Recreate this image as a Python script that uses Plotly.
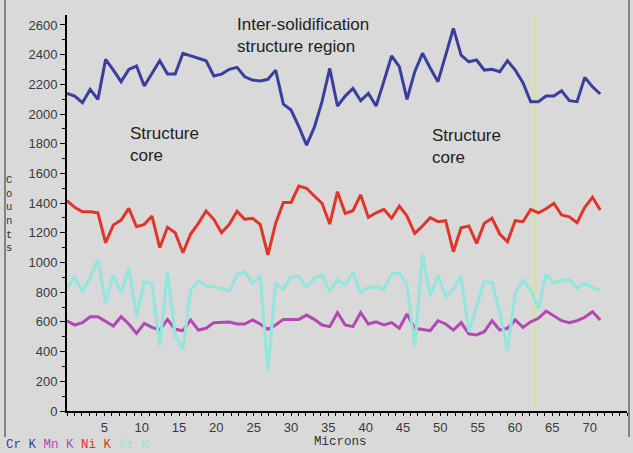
import plotly.graph_objects as go

# EDS line scan: X-ray counts along the scan path (microns)
step_um = 1.035
n_points = 70
microns = [round(i * step_um, 3) for i in range(n_points)]

cr_k = [2139, 2121, 2076, 2166, 2099, 2368, 2296, 2218, 2301, 2323,
        2189, 2274, 2359, 2269, 2269, 2409, 2391, 2375, 2359, 2256,
        2269, 2301, 2314, 2251, 2229, 2222, 2234, 2296, 2067, 2027,
        1915, 1791, 1910, 2083, 2307, 2054, 2121, 2173, 2090, 2139,
        2054, 2220, 2391, 2319, 2099, 2285, 2409, 2310, 2218, 2397,
        2577, 2397, 2352, 2364, 2296, 2301, 2285, 2359, 2296, 2211,
        2083, 2083, 2121, 2121, 2157, 2090, 2083, 2247, 2184, 2135]

ni_k = [1416, 1372, 1342, 1342, 1335, 1133, 1253, 1286, 1365, 1241,
        1257, 1313, 1100, 1237, 1201, 1066, 1192, 1264, 1347, 1291,
        1201, 1257, 1345, 1291, 1298, 1257, 1051, 1264, 1405, 1405,
        1515, 1500, 1448, 1399, 1259, 1477, 1331, 1349, 1455, 1304,
        1335, 1358, 1298, 1380, 1313, 1196, 1246, 1302, 1275, 1282,
        1073, 1234, 1246, 1129, 1264, 1298, 1192, 1140, 1282, 1275,
        1358, 1335, 1362, 1399, 1320, 1308, 1268, 1372, 1439, 1354]

mn_k = [608, 579, 595, 635, 635, 601, 572, 635, 586, 523,
        590, 563, 545, 617, 550, 541, 613, 545, 557, 595,
        595, 599, 586, 586, 613, 586, 550, 579, 617, 617,
        617, 646, 617, 579, 568, 662, 579, 568, 662, 586,
        601, 579, 595, 557, 653, 557, 550, 541, 608, 586,
        545, 595, 519, 512, 534, 608, 545, 557, 613, 563,
        601, 624, 673, 640, 608, 595, 608, 631, 669, 613]

si_k = [826, 900, 804, 900, 1022, 729, 916, 795, 961, 635,
        871, 860, 438, 939, 512, 415, 815, 877, 842, 837,
        826, 804, 916, 939, 860, 909, 276, 860, 819, 905,
        905, 833, 894, 916, 804, 882, 849, 931, 797, 833,
        837, 819, 923, 931, 849, 433, 1062, 770, 916, 770,
        819, 909, 534, 702, 871, 864, 662, 411, 792, 882,
        815, 691, 923, 860, 877, 886, 826, 860, 833, 815]

cursor_um = 62.6

y_ticks = list(range(0, 2601, 200))
x_ticks = list(range(5, 71, 5))

BG = "#d9d9d9"
COL_CR = "#3a3f9e"
COL_MN = "#b347b3"
COL_NI = "#e0352a"
COL_SI = "#92e6de"

fig = go.Figure()
fig.add_trace(go.Scatter(x=microns, y=mn_k, mode="lines",
                         line=dict(color=COL_MN, width=3), name="Mn K"))
fig.add_trace(go.Scatter(x=microns, y=si_k, mode="lines",
                         line=dict(color=COL_SI, width=3), name="Si K"))
fig.add_trace(go.Scatter(x=microns, y=ni_k, mode="lines",
                         line=dict(color=COL_NI, width=3), name="Ni K"))
fig.add_trace(go.Scatter(x=microns, y=cr_k, mode="lines",
                         line=dict(color=COL_CR, width=3), name="Cr K"))

# cursor marker
fig.add_shape(type="line", xref="x", yref="paper", x0=cursor_um, x1=cursor_um,
              y0=0, y1=1, line=dict(color="#d6e48c", width=2), layer="below")

tick_font = dict(family="Liberation Sans, Arial, sans-serif", size=13, color="#3a3a3a")

fig.update_xaxes(range=[0, 75], tickvals=x_ticks, ticks="outside", ticklen=3,
                 tickwidth=1, tickcolor="#000", showline=True, linecolor="#000",
                 linewidth=2, showgrid=False, zeroline=False, tickfont=tick_font,
                 minor=dict(dtick=1, tick0=0, ticks="outside", ticklen=3,
                            tickcolor="#000", showgrid=False))
fig.update_yaxes(range=[0, 2667], tickvals=y_ticks, ticks="outside", ticklen=5,
                 tickwidth=1, tickcolor="#000", showline=True, linecolor="#000",
                 linewidth=2, showgrid=False, zeroline=False, tickfont=tick_font,
                 minor=dict(dtick=100, tick0=0, ticks="outside", ticklen=3,
                            tickcolor="#000", showgrid=False))

L, R, T, B = 67, 6, 15, 42
W, H = 633, 453
pw, ph = W - L - R, H - T - B


def px(xp):
    return (xp - L) / pw


def py(yp):
    return (H - B - yp) / ph


label_font = dict(family="Liberation Sans, Arial, sans-serif", size=17, color="#222")
mono = "Liberation Mono, Courier New, monospace"

annotations = [
    dict(text="Inter-solidification<br>structure region", x=px(235), y=py(36),
         xanchor="left", yanchor="middle", align="left", font=label_font),
    dict(text="Structure<br>core", x=px(128), y=py(144),
         xanchor="left", yanchor="middle", align="left", font=label_font),
    dict(text="Structure<br>core", x=px(430), y=py(146.5),
         xanchor="left", yanchor="middle", align="left", font=label_font),
    dict(text="Microns", x=px(340), y=py(441.5), xanchor="center", yanchor="middle",
         font=dict(family=mono, size=12.5, color="#333")),
    dict(text="C<br>o<br>u<br>n<br>t<br>s", x=px(9), y=py(214),
         xanchor="center", yanchor="middle",
         font=dict(family=mono, size=10.5, color="#333")),
    dict(text=(f"<span style='color:{COL_CR}'>Cr K</span> "
               f"<span style='color:{COL_MN}'>Mn K</span> "
               f"<span style='color:{COL_NI}'>Ni K</span> "
               f"<span style='color:{COL_SI}'>Si K</span>"),
         x=px(4), y=py(445), xanchor="left", yanchor="middle",
         font=dict(family=mono, size=12.5)),
]
for a in annotations:
    a.update(xref="paper", yref="paper", showarrow=False)

# outer frame
frame = dict(type="line", xref="paper", yref="paper",
             line=dict(color="#666", width=1.5))
fig.add_shape(**frame, x0=px(5), x1=px(5), y0=py(0), y1=py(437))
fig.add_shape(**frame, x0=px(629), x1=px(629), y0=py(0), y1=py(437))

fig.update_layout(width=W, height=H, margin=dict(l=L, r=R, t=T, b=B),
                  paper_bgcolor=BG, plot_bgcolor=BG, showlegend=False,
                  annotations=annotations)

fig.write_html("out.html")
